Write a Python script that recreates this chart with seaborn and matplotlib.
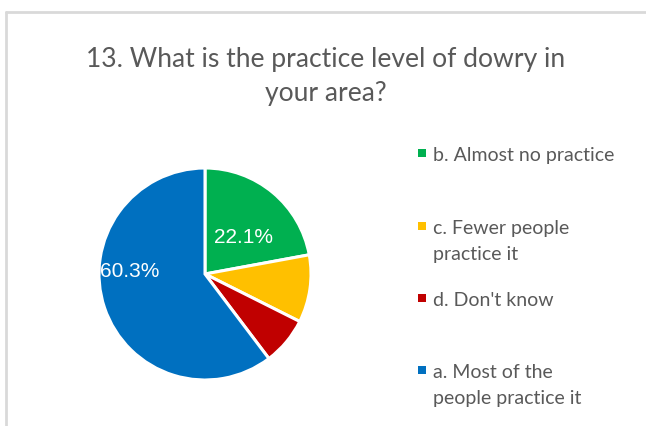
import matplotlib
matplotlib.use("Agg")
import matplotlib.pyplot as plt
import seaborn as sns
from matplotlib.patches import Rectangle

# Data (percent of respondents)
labels = ["b. Almost no practice", "c. Fewer people\npractice it", "d. Don't know",
          "a. Most of the\npeople practice it"]
shares = [22.1, 10.3, 7.3, 60.3]
colors = ["#00B050", "#FFC000", "#C00000", "#0070C0"]
title = "13. What is the practice level of dowry in\nyour area?"

sns.set_style("white")
plt.rcParams["font.family"] = ["Lato", "DejaVu Sans"]

W, H = 646, 427
fig = plt.figure(figsize=(W / 100, H / 100), dpi=100)

# chart frame (top and left border only visible)
fig.add_artist(plt.Line2D([6 / W, 1.0], [1 - 13 / H, 1 - 13 / H],
                          color="#D9D9D9", lw=2, transform=fig.transFigure))
fig.add_artist(plt.Line2D([6 / W, 6 / W], [0, 1 - 13 / H],
                          color="#D9D9D9", lw=2, transform=fig.transFigure))

ax = fig.add_axes([(205 - 106) / W, (152 - 106) / H, 212 / W, 212 / H])
wedges, texts = ax.pie(
    shares, colors=colors, startangle=90, counterclock=False,
    wedgeprops=dict(edgecolor="white", linewidth=2.2),
)
ax.set_xlim(-1, 1)
ax.set_ylim(-1, 1)
ax.set_aspect("equal")

# only the two big slices carry labels
label_pos = {0: (0.36, 0.35), 3: (-0.71, 0.03)}
for i, (x, y) in label_pos.items():
    ax.text(x, y, f"{shares[i]:.1f}%", ha="center", va="center", color="white",
            fontsize=15, family="Liberation Sans")

fig.text(326 / W, 1 - 76 / H, title, ha="center", va="center",
         fontsize=19.1, color="#595959", linespacing=1.45)

# legend: swatch next to the first line of each entry
legend_y = [155, 228, 300, 372]
for lab, col, y in zip(labels, colors, legend_y):
    fig.add_artist(Rectangle((418 / W, 1 - (y + 3) / H), 8 / W, 8 / H,
                             facecolor=col, edgecolor="none",
                             transform=fig.transFigure))
    fig.text(433 / W, 1 - (y - 8) / H, lab, ha="left", va="top",
             fontsize=14, color="#595959", linespacing=1.62)

fig.savefig("out.png", dpi=100)
